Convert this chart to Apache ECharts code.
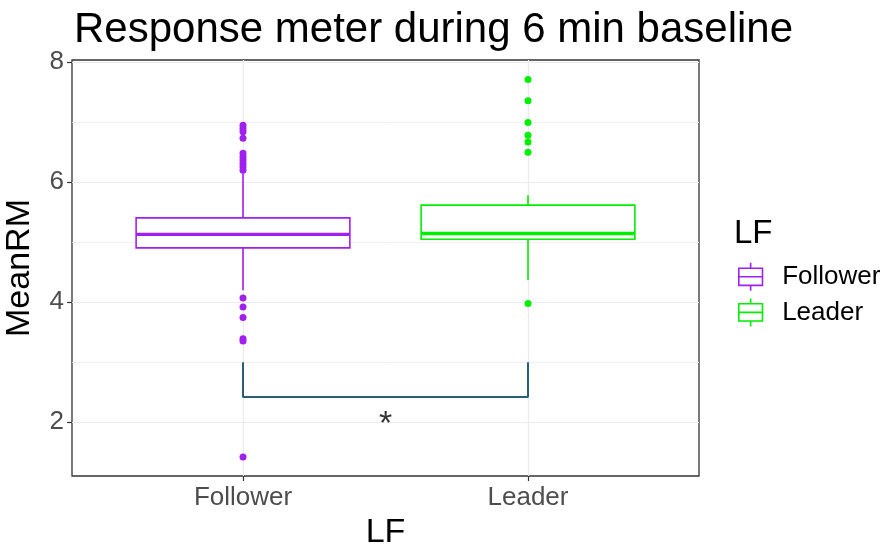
<!DOCTYPE html>
<html>
<head>
<meta charset="utf-8">
<script src="https://cdn.jsdelivr.net/npm/echarts@6/dist/echarts.min.js"></script>
<style>
  html, body { margin: 0; padding: 0; background: #ffffff; }
  #chart { width: 886px; height: 546px; }
</style>
</head>
<body>
<div id="chart"></div>
<script>
// Groups on the x axis and their colours
const groups = ['Follower', 'Leader'];
const groupColors = ['#A020F0', '#00EE00'];

// Five-number summaries: [lower whisker, Q1, median, Q3, upper whisker]
const followerBox = [4.20, 4.905, 5.13, 5.405, 6.145];
const leaderBox = [4.37, 5.05, 5.145, 5.617, 5.783];

// Points beyond the whiskers
const followerOutliers = [6.95, 6.895, 6.84, 6.73, 6.48, 6.42, 6.37, 6.31, 6.255, 6.20,
                          4.07, 3.92, 3.745, 3.39, 3.355, 1.42];
const leaderOutliers = [7.71, 7.355, 6.995, 6.78, 6.67, 6.50, 3.98];

// Axis ticks
const yTicks = [2, 4, 6, 8];
const yMinorTicks = [3, 5, 7];
const yRange = [1.105, 8.035];

// Significance bracket: legs start at bracketTop and join at bracketLevel
const bracketTop = 3.0;
const bracketLevel = 2.42;
const sigLabel = '*';
const sigY = 2.1;

const FONT = "'Liberation Sans', Arial, sans-serif";
const boxWidth = 0.75;

function boxSeries(i, box) {
  const c = groupColors[i];
  return {
    type: 'custom',
    name: groups[i],
    z: 3,
    itemStyle: { color: c },
    data: [[i + 1].concat(box)],
    encode: { x: 0, y: [1, 2, 3, 4, 5] },
    renderItem: function (params, api) {
      const x = api.value(0);
      const lo = api.coord([x, api.value(1)]);
      const q1 = api.coord([x, api.value(2)]);
      const md = api.coord([x, api.value(3)]);
      const q3 = api.coord([x, api.value(4)]);
      const hi = api.coord([x, api.value(5)]);
      const half = api.size([boxWidth, 0])[0] / 2;
      const ls = { stroke: c, lineWidth: 1.6 };
      return {
        type: 'group',
        children: [
          { type: 'line', shape: { x1: hi[0], y1: hi[1], x2: q3[0], y2: q3[1] }, style: ls },
          { type: 'line', shape: { x1: q1[0], y1: q1[1], x2: lo[0], y2: lo[1] }, style: ls },
          { type: 'rect', shape: { x: q3[0] - half, y: q3[1], width: half * 2, height: q1[1] - q3[1] },
            style: { fill: '#ffffff', stroke: c, lineWidth: 1.6 } },
          { type: 'line', shape: { x1: md[0] - half, y1: md[1], x2: md[0] + half, y2: md[1] },
            style: { stroke: c, lineWidth: 3.4 } }
        ]
      };
    }
  };
}

function outlierSeries(i, values) {
  return {
    type: 'scatter',
    name: groups[i],
    z: 4,
    symbol: 'circle',
    symbolSize: 7,
    itemStyle: { color: groupColors[i], opacity: 1 },
    data: values.map(v => [i + 1, v])
  };
}

const keyIcon = 'path://M12,0L12,5M1,5L23,5L23,21L1,21ZM1,13L23,13M12,21L12,26';

const option = {
  animation: false,
  backgroundColor: '#ffffff',
  title: [
    { text: 'Response meter during 6 min baseline', left: 69, top: 4,
      textStyle: { fontFamily: FONT, fontSize: 42, fontWeight: 'normal', color: '#000' } },
    { text: 'LF', left: 729, top: 212,
      textStyle: { fontFamily: FONT, fontSize: 33, fontWeight: 'normal', color: '#000' } }
  ],
  legend: {
    orient: 'vertical',
    left: 733, top: 257,
    itemWidth: 27, itemHeight: 28, itemGap: 6,
    selectedMode: false,
    textStyle: { fontFamily: FONT, fontSize: 26, color: '#000', padding: [0, 0, 0, 13] },
    data: groups.map((g, i) => ({
      name: g, icon: keyIcon,
      itemStyle: { color: '#ffffff', borderColor: groupColors[i], borderWidth: 1.6 }
    }))
  },
  grid: {
    left: 72, right: 187, top: 60, bottom: 70,
    outerBoundsMode: 'none',
    containLabel: false,
    show: true, borderColor: '#333333', borderWidth: 1.3, backgroundColor: 'transparent'
  },
  xAxis: {
    type: 'value', min: 0.4, max: 2.6,
    name: 'LF', nameLocation: 'middle', nameGap: 33,
    nameTextStyle: { fontFamily: FONT, fontSize: 34, color: '#000' },
    axisLine: { show: false },
    axisTick: { show: true, customValues: [1, 2], length: 5, lineStyle: { color: '#333', width: 1.2 } },
    axisLabel: { customValues: [1, 2], formatter: v => groups[Math.round(v) - 1],
      fontFamily: FONT, fontSize: 26, color: '#4d4d4d', margin: 9 },
    splitLine: { show: true, lineStyle: { color: '#ebebeb', width: 1.2 } }
  },
  yAxis: [
    {
      type: 'value', min: yRange[0], max: yRange[1],
      name: 'MeanRM', nameLocation: 'middle', nameGap: 35, nameRotate: 90,
      nameTextStyle: { fontFamily: FONT, fontSize: 34, color: '#000' },
      axisLine: { show: false },
      axisTick: { show: true, customValues: yTicks, length: 5, lineStyle: { color: '#333', width: 1.2 } },
      axisLabel: { customValues: yTicks, fontFamily: FONT, fontSize: 26, color: '#4d4d4d', margin: 8 },
      splitLine: { show: true, lineStyle: { color: '#ebebeb', width: 1.2 } }
    },
    {
      type: 'value', min: yRange[0], max: yRange[1],
      axisLine: { show: false },
      axisTick: { show: false, customValues: yMinorTicks },
      axisLabel: { show: false, customValues: yMinorTicks },
      splitLine: { show: true, lineStyle: { color: '#f0f0f0', width: 0.9 } }
    }
  ],
  series: [
    boxSeries(0, followerBox),
    boxSeries(1, leaderBox),
    outlierSeries(0, followerOutliers),
    outlierSeries(1, leaderOutliers),
    {
      type: 'line',
      name: 'bracket',
      z: 2,
      symbol: 'none',
      silent: true,
      lineStyle: { color: '#2b5d75', width: 2 },
      data: [[1, bracketTop], [1, bracketLevel], [2, bracketLevel], [2, bracketTop]]
    },
    {
      type: 'scatter',
      name: 'signif',
      symbolSize: 1,
      itemStyle: { color: 'transparent' },
      silent: true,
      label: { show: true, position: 'inside', formatter: sigLabel,
        fontFamily: FONT, fontSize: 34, color: '#000', offset: [0, 8] },
      data: [[1.5, sigY]]
    }
  ]
};

const chart = echarts.init(document.getElementById('chart'), null, { renderer: 'canvas' });
chart.setOption(option);
</script>
</body>
</html>
